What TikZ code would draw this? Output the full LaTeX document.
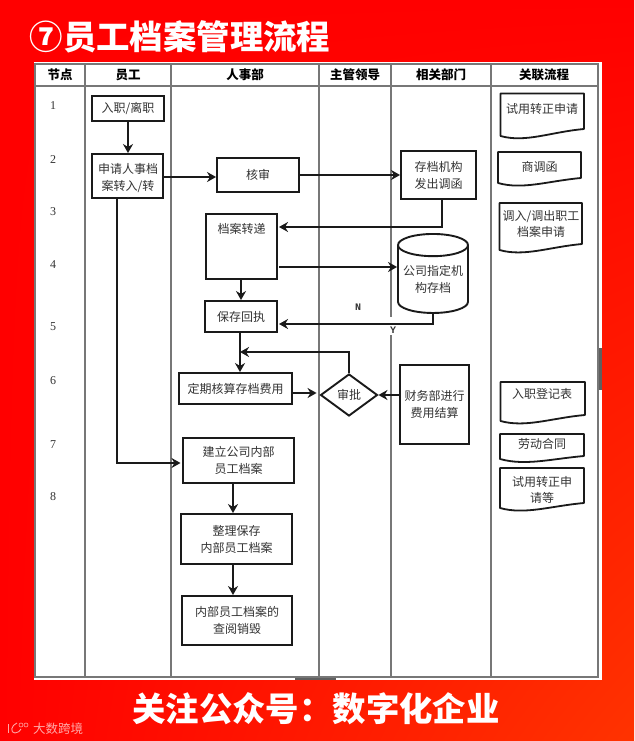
\documentclass[tikz,border=0pt]{standalone}
\usepackage{fontspec}
\setmainfont{Noto Sans CJK SC}
\newfontfamily\numfont{Liberation Serif}
\newfontfamily\markfont{Liberation Mono}
\usepackage{xcolor}
\usetikzlibrary{calc, shapes.geometric, arrows.meta, shadings}

\definecolor{gridgray}{HTML}{777777}
\definecolor{boxblack}{HTML}{1A1A1A}
\definecolor{bodygray}{HTML}{333333}
\definecolor{bgorange}{HTML}{FF3300}

\tikzset{
    flowbox/.style={draw=boxblack, line width=1.9pt, fill=white, inner sep=0pt, align=center,
        text=bodygray, font=\fontsize{12}{17}\selectfont},
    doctext/.style={inner sep=0pt, align=center, text=bodygray, font=\fontsize{12}{16}\selectfont},
    docline/.style={draw=boxblack, line width=1.8pt, fill=white, line join=round},
    flowline/.style={draw=boxblack, line width=1.9pt, -{Stealth[length=9pt,width=10pt]}},
    gridline/.style={draw=gridgray, line width=1.5pt},
    headtext/.style={font=\fontsize{12.5}{14}\selectfont\bfseries, text=black, inner sep=0pt},
    rowtext/.style={font=\fontsize{12}{14}\selectfont\numfont, text=bodygray, inner sep=0pt},
    marktext/.style={font=\fontsize{10}{12}\selectfont\markfont\bfseries, text=bodygray, inner sep=0pt},
    bigtext/.style={font=\fontsize{33.4}{36}\selectfont\bfseries, text=white, inner sep=0pt},
}

% left, top, right, right bottom, left bottom
\newcommand{\docpage}[5]{%
    \path[docline] (#1,#2) -- (#3,#2) -- (#3,#4)
        .. controls ({#1+0.6*(#3-#1)},{#4+3}) and ({#1+0.3*(#3-#1)},{#5+7}) .. (#1,#5) -- cycle;
}

\begin{document}
\begin{tikzpicture}[x=1pt, y=-1pt, >=stealth]

    % =================================================================
    % 1. BACKGROUND AND TABLE
    % =================================================================
    \shade[upper left=red, upper right=red, lower left=red, lower right=bgorange]
        (0,0) rectangle (634,741);
    \useasboundingbox (0,0) rectangle (634,741);

    \fill[white] (33.5,62) rectangle (601.5,680);
    \fill[gridgray!80!black] (599,348) rectangle (601.5,390);
    \fill[gridgray!80!black] (295,677) rectangle (336,680);

    \draw[gridline] (35,64) rectangle (598,677);
    \draw[gridline] (35,86) -- (598,86);
    \foreach \colx in {85,171,319,491}
        \draw[gridline] (\colx,64) -- (\colx,677);
    % this column line is broken around the Y
    \draw[gridline] (391,64) -- (391,317);
    \draw[gridline] (391,335) -- (391,677);

    \foreach \headx/\headname/\headlabel in {60/node/节点, 128/staff/员工, 245/hr/人事部,
            355/lead/主管领导, 441/dept/相关部门, 544/proc/关联流程}
        \node[headtext] (head\headname) at (\headx,75) {\headlabel};

    \foreach \rownum/\rowy in {1/106, 2/160, 3/212, 4/265, 5/327, 6/381, 7/445, 8/497}
        \node[rowtext] (row\rownum) at (53,\rowy) {\rownum};

    % =================================================================
    % 2. FLOW BOXES
    % =================================================================
    \node[flowbox, minimum width=72pt, minimum height=25pt] (entry) at (128,108.5) {入职/离职};
    \node[flowbox, minimum width=71pt, minimum height=44pt] (apply) at (127.5,176) {};
    \begin{scope}
        \clip (92,154) rectangle (163,197);
        \node[doctext, font=\fontsize{12}{17}\selectfont] (applytext) at (128,185.5) {申请人事档\\案转入/转\\出};
    \end{scope}
    \node[flowbox, minimum width=82pt, minimum height=34pt] (check) at (258,175) {核审};
    \node[flowbox, minimum width=75pt, minimum height=48pt] (issue) at (438.5,175) {存档机构\\发出调函};
    \node[flowbox, minimum width=71pt, minimum height=65pt] (transfer) at (241.5,246.5) {};
    \node[doctext] (transfertext) at (241.5,229) {档案转递};
    \node[flowbox, minimum width=72pt, minimum height=31pt] (receipt) at (241,316.5) {保存回执};
    \node[flowbox, minimum width=113pt, minimum height=31pt] (calc) at (235.5,388.5) {定期核算存档费用};
    \node[flowbox, diamond, aspect=1.35, minimum width=57pt, minimum height=42pt] (approve) at (349,395) {审批};
    \node[flowbox, minimum width=69pt, minimum height=79pt] (finance) at (434.5,404.5) {财务部进行\\费用结算};
    \node[flowbox, minimum width=111pt, minimum height=45pt] (create) at (238.5,460.5) {建立公司内部\\员工档案};
    \node[flowbox, minimum width=111pt, minimum height=50pt] (sort) at (236.5,539) {整理保存\\内部员工档案};
    \node[flowbox, minimum width=110pt, minimum height=49pt] (view) at (237,620.5) {内部员工档案的\\查阅销毁};
    \node[flowbox, cylinder, shape border rotate=90, aspect=0.37, minimum width=70pt, minimum height=79pt] (archive)
        at (433,279.5) {公司指定机\\构存档};

    % =================================================================
    % 3. LINKED DOCUMENTS
    % =================================================================
    \docpage{500.5}{93.5}{584}{129}{136}
    \node[doctext] (docprobation) at (542,109) {试用转正申请};
    \docpage{498}{152}{581}{178}{183}
    \node[doctext] (docletter) at (539.5,167) {商调函};
    \docpage{499.5}{203}{582}{244}{250}
    \node[doctext] (docmove) at (541,224) {调入/调出职工\\档案申请};
    \docpage{500.5}{382}{585}{415}{421}
    \node[doctext] (docregister) at (542,394) {入职登记表};
    \docpage{500}{434}{584}{456}{459}
    \node[doctext] (doccontract) at (542,444) {劳动合同};
    \docpage{500}{468}{584}{503}{508}
    \node[doctext] (docprobationb) at (542,490) {试用转正申\\请等};

    % =================================================================
    % 4. CONNECTORS
    % =================================================================
    \coordinate (applyout) at (117,198);
    \coordinate (applyright) at (163,177);
    \coordinate (createin) at (183,463);
    \coordinate (createout) at (233,483);
    \coordinate (sortout) at (233,564);
    \coordinate (issueout) at (442,198);
    \coordinate (transferin) at (277,227);
    \coordinate (transferout) at (279,267);
    \coordinate (transferdown) at (241,279);
    \coordinate (receiptin) at (277,324);
    \coordinate (receiptout) at (240,332);
    \coordinate (merge) at (240,352);
    \coordinate (calcout) at (292,393);

    \draw[flowline] (entry) -- (entry |- apply.north);
    \draw[flowline] (applyright) -- (applyright -| check.west);
    \draw[flowline] (check) -- (issue);
    \draw[flowline, shorten >=2pt] (issueout) |- (transferin);
    \draw[flowline] (transferout) -- (transferout -| archive.west);
    \draw[flowline] (transferdown) -- (transferdown |- receipt.north);
    \draw[flowline, shorten >=2pt] (archive.south) |- (receiptin);
    \draw[flowline] (receiptout) -- (receiptout |- calc.north);
    \draw[flowline] (approve.north) |- (merge);
    \draw[flowline, shorten >=3pt] (calcout) -- (calcout -| approve.west);
    \draw[flowline] (finance.west |- approve.east) -- (approve.east);
    \draw[flowline, shorten >=2.5pt] (applyout) |- (createin);
    \draw[flowline] (createout) -- (createout |- sort.north);
    \draw[flowline] (sortout) -- (sortout |- view.north);

    \node[marktext] (markno) at (358,307) {N};
    \node[marktext] (markyes) at (393,330) {Y};

    % =================================================================
    % 5. TITLE, FOOTER AND LOGO
    % =================================================================
    \node[bigtext] (title) at (180,37) {⑦员工档案管理流程};
    \node[bigtext] (footer) at (316,709) {关注公众号：数字化企业};

    \begin{scope}[white, opacity=0.65, line width=0.9pt]
        \draw (8,724) -- (8,733);
        \draw (17,723) .. controls (11,725) and (10,733) .. (15,733) .. controls (18,733) and (20,731) .. (21,729);
        \draw[line width=0.6pt] (21,725) circle (2);
        \draw[line width=0.6pt] (26,725) circle (2);
        \node[inner sep=0pt, text=white, font=\fontsize{12.5}{14}\selectfont] (brand) at (58,729) {大数跨境};
    \end{scope}

\end{tikzpicture}
\end{document}
